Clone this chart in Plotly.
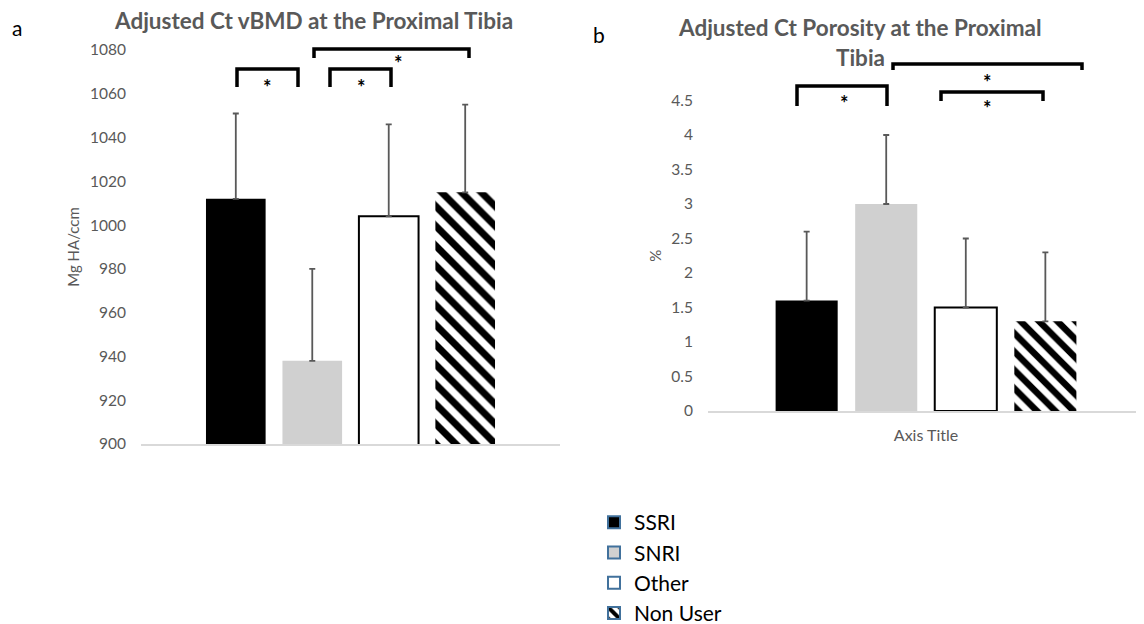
import plotly.graph_objects as go

# ---------------- data ----------------
groups = ["SSRI", "SNRI", "Other", "Non User"]
vbmd_mean = [1012, 938, 1004, 1015]
vbmd_sd = [39, 42, 42, 40]
porosity_mean = [1.6, 3.0, 1.5, 1.3]
porosity_sd = [1.0, 1.0, 1.0, 1.0]
vbmd_ticks = [900, 920, 940, 960, 980, 1000, 1020, 1040, 1060, 1080]
porosity_ticks = [0, 0.5, 1, 1.5, 2, 2.5, 3, 3.5, 4, 4.5]

# page body has an 8px margin, so the figure is drawn at (8, 8)
OFF = 8
FW, FH = 1144 - OFF, 624 - OFF
def px(x):
    return (x - OFF) / FW
def py(y):
    return 1 - (y - OFF) / FH

FONT = "Lato, Open Sans, sans-serif"
GREY_TXT = "#595959"
ERR = "#595959"

styles = {
    "SSRI": dict(color="black", line=dict(color="black", width=0)),
    "SNRI": dict(color="#D0D0D0", line=dict(color="#D0D0D0", width=0)),
    "Other": dict(color="white", line=dict(color="black", width=2)),
    "Non User": dict(color="white", line=dict(color="white", width=0),
                     pattern=dict(shape="\\", fgcolor="black", bgcolor="white",
                                  fgopacity=1, size=14, solidity=0.5)),
}

fig = go.Figure()

for g, m, s in zip(groups, vbmd_mean, vbmd_sd):
    fig.add_trace(go.Bar(
        x=[""], y=[m], name=g, showlegend=False, marker=styles[g],
        error_y=dict(type="data", array=[s], arrayminus=[0], symmetric=False,
                     color=ERR, thickness=1.8, width=3),
        xaxis="x", yaxis="y"))

for g, m, s in zip(groups, porosity_mean, porosity_sd):
    mk = dict(styles[g])
    if "pattern" in mk:
        mk["pattern"] = dict(mk["pattern"], size=13)
    fig.add_trace(go.Bar(
        x=[""], y=[m], name=g, showlegend=False, marker=mk,
        error_y=dict(type="data", array=[s], arrayminus=[0], symmetric=False,
                     color=ERR, thickness=1.8, width=3),
        xaxis="x2", yaxis="y2"))

# legend-only entries (blue outlined swatches)
for g in groups:
    mk = dict(styles[g])
    mk["line"] = dict(color="#41719C", width=2)
    fig.add_trace(go.Bar(x=[""], y=[None], name=g, legendgroup=g,
                         marker=mk, xaxis="x3", yaxis="y3", hoverinfo="skip"))

axis_common = dict(showgrid=False, zeroline=False, fixedrange=True)

fig.update_layout(
    width=FW, height=FH,
    margin=dict(l=0, r=0, t=0, b=0, autoexpand=False),
    paper_bgcolor="white", plot_bgcolor="white",
    font=dict(family=FONT, size=14, color=GREY_TXT),
    barmode="group", bargap=0.27, bargroupgap=0.22,
    xaxis=dict(domain=[px(141), px(560)], anchor="y", showticklabels=False,
               showline=True, linecolor="#D9D9D9", linewidth=1.5, ticks="",
               **axis_common),
    yaxis=dict(domain=[py(444), py(50)], anchor="x", range=[900, 1080],
               tickvals=vbmd_ticks, showline=False, ticks="",
               ticklabelstandoff=14,
               tickfont=dict(family=FONT, size=15.5, color=GREY_TXT),
               title=dict(text="Mg HA/ccm", standoff=6,
                          font=dict(family=FONT, size=15, color=GREY_TXT)),
               **axis_common),
    xaxis2=dict(domain=[px(708), 1.0], anchor="y2", showticklabels=False,
                showline=True, linecolor="#D9D9D9", linewidth=1.5, ticks="",
                title=dict(text="Axis Title", standoff=18,
                           font=dict(family=FONT, size=16, color=GREY_TXT)),
                **axis_common),
    yaxis2=dict(domain=[py(411), py(100.5)], anchor="x2", range=[0, 4.5],
                tickvals=porosity_ticks, showline=False, ticks="",
                ticklabelstandoff=14,
                tickfont=dict(family=FONT, size=15.5, color=GREY_TXT),
                title=dict(text="%", standoff=6,
                           font=dict(family=FONT, size=15, color=GREY_TXT)),
                **axis_common),
    xaxis3=dict(domain=[0, 0.01], anchor="y3", visible=False),
    yaxis3=dict(domain=[0, 0.01], anchor="x3", visible=False),
    legend=dict(x=px(594), y=py(502), xanchor="left", yanchor="top",
                font=dict(family=FONT, size=21, color="black"),
                tracegroupgap=0, bgcolor="rgba(0,0,0,0)"),
)

# titles and panel labels
ann = [
    dict(text="<b>Adjusted Ct vBMD at the Proximal Tibia</b>", x=px(314), y=py(21),
         font=dict(size=22.5, color=GREY_TXT)),
    dict(text="<b>Adjusted Ct Porosity at the Proximal</b>", x=px(860), y=py(27),
         font=dict(size=22.5, color=GREY_TXT)),
    dict(text="<b>Tibia</b>", x=px(860), y=py(57),
         font=dict(size=22.5, color=GREY_TXT)),
    dict(text="a", x=px(17), y=py(28), font=dict(size=21, color="black")),
    dict(text="b", x=px(599), y=py(35), font=dict(size=21, color="black")),
]
for a in ann:
    fig.add_annotation(xref="paper", yref="paper", showarrow=False,
                       xanchor="center", yanchor="middle",
                       font=dict(family=FONT, **a.pop("font")), **a)

# significance brackets: (x_left, x_right, y_top, y_leg_bottom, star_x, star_y)
brackets = [
    (237, 298, 69, 87, 267, 83),
    (330, 391, 69, 87, 362, 83),
    (314, 469, 49, 58, 398, 59),
    (797, 887, 86, 106, 844, 99),
    (893, 1082, 64, 70, 987, 78),
    (941, 1043, 92, 101, 987, 104),
]
for x1, x2, yt, yb, sx, sy in brackets:
    fig.add_shape(type="path", xref="paper", yref="paper",
                  path=f"M{px(x1)},{py(yb)} L{px(x1)},{py(yt)} L{px(x2)},{py(yt)} L{px(x2)},{py(yb)}",
                  line=dict(color="black", width=3.5))
    fig.add_annotation(xref="paper", yref="paper", x=px(sx), y=py(sy + 4),
                       text="<b>*</b>", showarrow=False, xanchor="center", yanchor="middle",
                       font=dict(family=FONT, size=20, color="black"))

fig.write_html("out.html")
